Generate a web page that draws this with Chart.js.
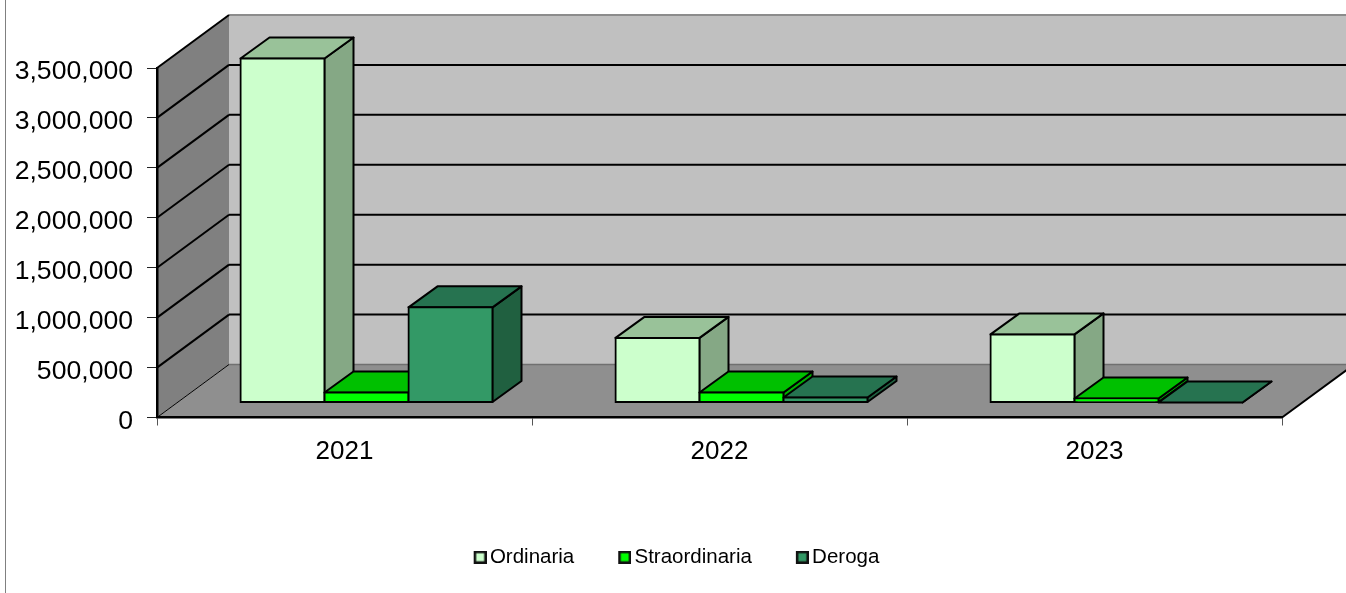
<!DOCTYPE html>
<html>
<head>
<meta charset="utf-8">
<title>Ordinaria Straordinaria Deroga</title>
<script src="https://cdn.jsdelivr.net/npm/chart.js@4"></script>
<style>
    html, body { margin: 0; padding: 0; background: #fff; overflow: hidden; }
    #frameLine { position: absolute; left: 5px; top: 0; width: 1px; height: 593px; background: #808080; }
    #chart { position: absolute; left: 0; top: 0; }
</style>
</head>
<body>
<canvas id="chart" width="1346" height="593"></canvas>
<div id="frameLine"></div>
<script>
const years = ['2021', '2022', '2023'];
const ordinaria = [3445000, 647000, 682000];
const straordinaria = [100000, 100000, 40000];
const deroga = [953000, 50000, 0];

const seriesNames = ['Ordinaria', 'Straordinaria', 'Deroga'];
const frontColors = ['#CCFFCC', '#00FF00', '#339966'];
const topColors = ['#99C299', '#00C000', '#267350'];
const sideColors = ['#85A885', '#00B000', '#206040'];

const fontName = '"Liberation Sans", Arial, sans-serif';

// floor/wall offset and the offset of the bars inside the floor
const wallDx = 72, wallDy = -53;
const barDx = 22, barDy = -15;
const depthDx = 29, depthDy = -21;

function poly(ctx, pts, fill, stroke, lineWidth) {
    ctx.beginPath();
    pts.forEach((p, i) => i ? ctx.lineTo(p[0], p[1]) : ctx.moveTo(p[0], p[1]));
    ctx.closePath();
    if (fill) {
        ctx.fillStyle = fill;
        ctx.fill();
    }
    if (stroke) {
        ctx.strokeStyle = stroke;
        ctx.lineWidth = lineWidth;
        ctx.lineJoin = 'round';
        ctx.stroke();
    }
}

function line(ctx, x1, y1, x2, y2, color, width) {
    ctx.beginPath();
    ctx.moveTo(x1, y1);
    ctx.lineTo(x2, y2);
    ctx.strokeStyle = color;
    ctx.lineWidth = width;
    ctx.stroke();
}

const wallsPlugin = {
    id: 'walls',
    // back wall, side wall and floor, gridlines follow the y scale
    beforeDraw(chart) {
        const { ctx, chartArea: a, scales } = chart;
        const left = a.left, right = a.right, top = a.top, bottom = a.bottom;
        const backLeft = left + wallDx, backBottom = bottom + wallDy, backTop = top + wallDy;
        const backRight = right + wallDx;
        ctx.save();
        poly(ctx, [[backLeft, backTop], [backRight, backTop], [backRight, backBottom], [backLeft, backBottom]], '#C0C0C0');
        poly(ctx, [[left, top], [backLeft, backTop], [backLeft, backBottom], [left, bottom]], '#808080');
        poly(ctx, [[left, bottom], [backLeft, backBottom], [backRight, backBottom], [right, bottom]], '#8F8F8F');
        line(ctx, backLeft, backBottom, backRight, backBottom, '#707070', 1.5);
        line(ctx, backLeft, backTop, backRight, backTop, '#8C8C8C', 2);
        line(ctx, left, bottom, backLeft, backBottom, '#000', 1);
        line(ctx, right, bottom, backRight, backBottom, '#000', 2);
        scales.y.ticks.forEach(t => {
            if (t.value === 0) return;
            const y = scales.y.getPixelForValue(t.value);
            line(ctx, left, y, backLeft, y + wallDy, '#000', 2);
            if (t.value < scales.y.max) line(ctx, backLeft, y + wallDy, backRight, y + wallDy, '#000', 2);
        });
        ctx.restore();
    },
    // the default order paints the first series last, here the later series must cover the earlier ones
    beforeDatasetsDraw(chart) {
        const ctx = chart.ctx;
        ctx.save();
        ctx.translate(barDx, barDy);
        seriesNames.forEach((name, i) => {
            const meta = chart.getDatasetMeta(i);
            meta.data.forEach(bar => {
                const p = bar.getProps(['x', 'y', 'base', 'width'], true);
                const l = p.x - p.width / 2, r = p.x + p.width / 2;
                poly(ctx, [[r, p.y], [r + depthDx, p.y + depthDy], [r + depthDx, p.base + depthDy], [r, p.base]], sideColors[i], '#000', 2);
                poly(ctx, [[l, p.y], [l + depthDx, p.y + depthDy], [r + depthDx, p.y + depthDy], [r, p.y]], topColors[i], '#000', 2);
            });
            meta.controller.draw();
        });
        ctx.restore();
        return false;
    },
    afterLayout(chart) {
        chart.legend.top = 504;
        chart.legend.left += 28;
        chart.legend.right += 28;
    }
};

// swatch sits at the right end of the image so it ends up close to the text
function legendSwatch(color) {
    const c = document.createElement('canvas');
    c.width = 21;
    c.height = 13;
    const g = c.getContext('2d');
    g.fillStyle = color;
    g.fillRect(9, 1, 11, 11);
    g.strokeStyle = '#111';
    g.lineWidth = 2.5;
    g.strokeRect(9.25, 1.25, 10.5, 10.5);
    return c;
}

const values = [ordinaria, straordinaria, deroga];

new Chart(document.getElementById('chart'), {
    type: 'bar',
    plugins: [wallsPlugin],
    data: {
        labels: years,
        datasets: seriesNames.map((name, i) => ({
            label: name,
            data: values[i],
            backgroundColor: frontColors[i],
            borderColor: '#000',
            borderWidth: 2,
            borderSkipped: false,
            inflateAmount: 1,
            categoryPercentage: 0.672,
            barPercentage: 1,
            clip: false
        }))
    },
    options: {
        responsive: false,
        animation: false,
        layout: { padding: { left: 14, top: 68, right: 64, bottom: 0 } },
        plugins: {
            title: { display: false },
            tooltip: { enabled: false },
            legend: {
                position: 'bottom',
                labels: {
                    usePointStyle: true,
                    pointStyleWidth: 7,
                    padding: 43,
                    color: '#000',
                    font: { family: fontName, size: 20.5 },
                    generateLabels(chart) {
                        return Chart.defaults.plugins.legend.labels.generateLabels(chart).map(item => {
                            item.pointStyle = legendSwatch(frontColors[item.datasetIndex]);
                            return item;
                        });
                    }
                }
            }
        },
        scales: {
            x: {
                afterFit(scale) { scale.height = 102; },
                border: { color: '#000', width: 2.5 },
                grid: { drawOnChartArea: false, drawTicks: true, tickLength: 8, tickColor: '#555', tickWidth: 1 },
                ticks: { color: '#000', padding: 11, font: { family: fontName, size: 26 } }
            },
            y: {
                min: 0,
                max: 3500000,
                afterFit(scale) { scale.width = 143; },
                border: { color: '#000', width: 2.5 },
                grid: { drawOnChartArea: false, drawTicks: true, tickLength: 10, tickColor: '#222', tickWidth: 1 },
                ticks: {
                    stepSize: 500000,
                    color: '#000',
                    padding: 14,
                    labelOffset: 4,
                    font: { family: fontName, size: 26.6 },
                    callback: v => v.toLocaleString('en-US')
                }
            }
        }
    }
});
</script>
</body>
</html>
